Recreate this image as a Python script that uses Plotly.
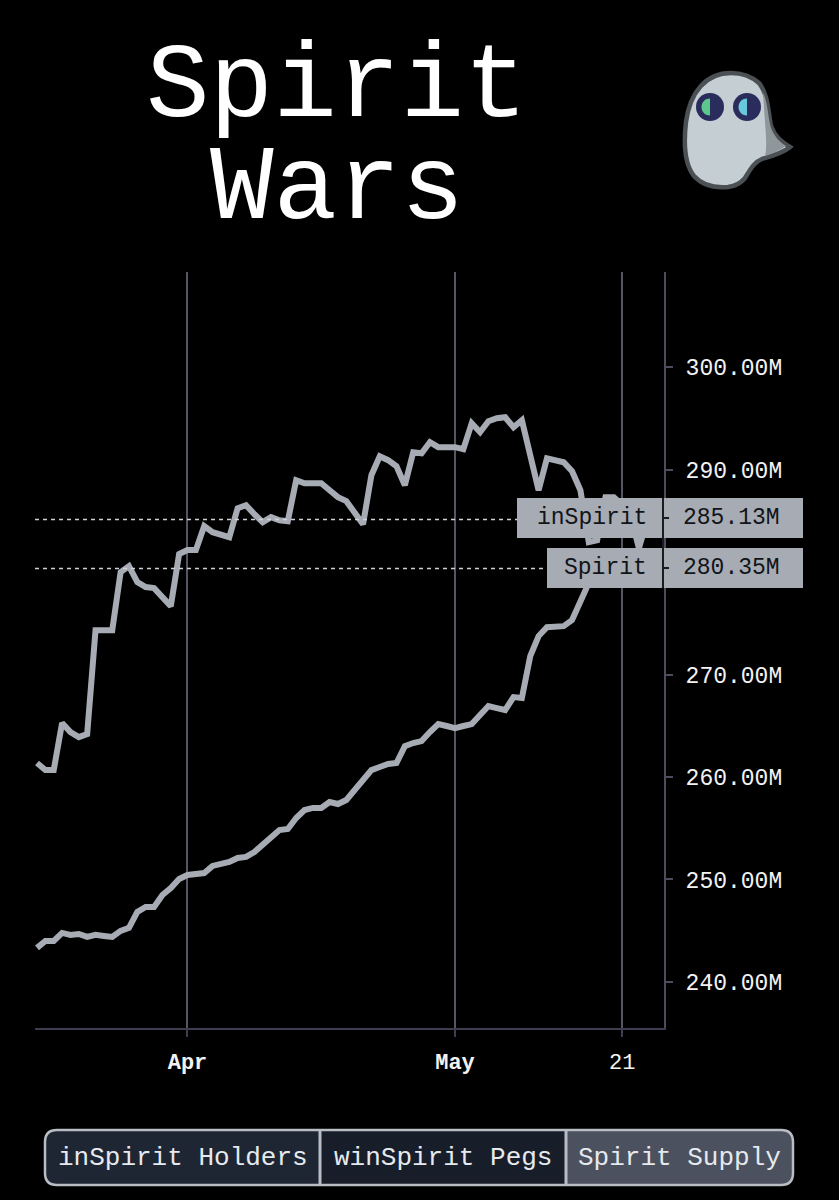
import plotly.graph_objects as go
import pandas as pd

# ---------------- data ----------------
d1 = pd.date_range("2022-03-14", "2022-03-31", freq="D")
d2 = pd.date_range("2022-04-01", "2022-05-01", periods=33)
d3 = pd.date_range("2022-05-02", "2022-05-24", freq="D")
dates = [d.strftime("%Y-%m-%d %H:%M") for d in list(d1) + list(d2) + list(d3)]

inspirit = [261.37, 260.68, 260.68, 265.27, 264.39, 263.90, 264.20, 274.34, 274.34, 274.34,
            280.00, 280.59, 279.02, 278.54, 278.44, 277.46, 276.68, 281.76, 282.15, 282.15,
            284.49, 283.90, 283.61, 283.41, 286.24, 286.54, 285.66, 284.88, 285.37, 285.07,
            284.98, 288.98, 288.68, 288.68, 288.68, 288.00, 287.32, 286.93, 285.85, 284.68,
            289.46, 291.32, 290.93, 290.34, 288.49, 291.71, 291.61, 292.68, 292.20, 292.20,
            292.20, 292.00, 294.54, 293.66, 294.73, 295.02, 295.12, 294.15, 294.83, 291.41,
            288.00, 291.12, 290.93, 290.73, 289.85, 288.00, 282.93, 283.12, 287.32, 287.32,
            286.54, 285.56, 282.34, 285.13]

spirit = [243.32, 244.00, 244.00, 244.78, 244.59, 244.68, 244.39, 244.59, 244.49, 244.39,
          244.98, 245.27, 246.83, 247.32, 247.32, 248.49, 249.17, 250.05, 250.44, 250.54,
          250.63, 251.32, 251.51, 251.71, 252.10, 252.20, 252.68, 253.37, 254.05, 254.83,
          254.93, 256.00, 256.78, 256.98, 256.98, 257.56, 257.37, 257.76, 258.73, 259.71,
          260.68, 260.98, 261.27, 261.37, 263.02, 263.32, 263.51, 264.39, 265.17, 264.98,
          264.78, 264.98, 265.17, 266.05, 266.93, 266.73, 266.54, 267.80, 267.71, 271.80,
          273.76, 274.63, 274.73, 274.73, 275.32, 276.98, 278.93, 279.71, 280.20, 280.68,
          280.98, 280.59, 280.39, 280.35]

x_tick_vals = ["2022-04-01 00:00", "2022-05-01 00:00", "2022-05-21 00:00"]
x_tick_text = ["<b>Apr</b>", "<b>May</b>", "21"]
# 280.00M sits behind the "Spirit" price label in the reference, so it is not shown
y_tick_vals = [240, 250, 260, 270, 290, 300]
y_tick_text = ["240.00M", "250.00M", "260.00M", "270.00M", "290.00M", "300.00M"]

series_names = ["inSpirit", "Spirit"]
buttons = ["inSpirit Holders", "winSpirit Pegs", "Spirit Supply"]
title_lines = ["Spirit", "Wars"]

# ---------------- layout helpers ----------------
W, H = 839, 1200
L, R, T, B = 35, 664, 272, 1028
MONO = "Liberation Mono, DejaVu Sans Mono, monospace"
LINE_C = "#a7acb4"


def X(px):
    return (px - L) / (R - L)


def Y(py):
    return (B - py) / (B - T)


def path(segs):
    out = []
    for cmd, pts in segs:
        s = cmd
        if pts:
            s += " " + " ".join(f"{X(a):.5f},{Y(b):.5f}" for a, b in pts)
        out.append(s)
    return " ".join(out)


shapes = []
annotations = []

fig = go.Figure()
for name, vals in zip(series_names, [inspirit, spirit]):
    fig.add_trace(go.Scatter(x=dates, y=vals, mode="lines", name=name,
                             line=dict(color=LINE_C, width=6), showlegend=False,
                             hoverinfo="skip"))

# price lines + labels
label_boxes = [(517, 498, 538), (547, 548, 588)]
for (name, vals), (bx, by0, by1) in zip(zip(series_names, [inspirit, spirit]), label_boxes):
    last = vals[-1]
    shapes.append(dict(type="line", xref="paper", yref="y", x0=0, x1=X(bx), y0=last, y1=last,
                       line=dict(color="#cfd3d8", width=1.5, dash="4px,4px"), layer="above"))
    shapes.append(dict(type="rect", xref="paper", yref="paper", x0=X(bx), x1=X(803),
                       y0=Y(by1), y1=Y(by0), fillcolor=LINE_C, line=dict(width=0), layer="above"))
    yc = (by0 + by1) / 2
    shapes.append(dict(type="line", xref="paper", yref="paper", x0=X(663), x1=X(669),
                       y0=Y(yc), y1=Y(yc), line=dict(color="#1a1c20", width=2), layer="above"))
    annotations.append(dict(text=name, xref="paper", yref="paper", x=X(649), y=Y(yc),
                            xanchor="right", yanchor="middle", showarrow=False,
                            font=dict(family=MONO, size=23, color="#111418")))
    annotations.append(dict(text=f"{last:.2f}M", xref="paper", yref="paper", x=X(681), y=Y(yc),
                            xanchor="left", yanchor="middle", showarrow=False,
                            font=dict(family=MONO, size=23, color="#111418")))
shapes.append(dict(type="line", xref="paper", yref="paper", x0=X(663), x1=X(663),
                   y0=Y(588), y1=Y(498), line=dict(color="#1a1c20", width=2), layer="above"))

# title
for txt, yc in zip(title_lines, [88, 190]):
    annotations.append(dict(text=txt, xref="paper", yref="paper", x=X(337), y=Y(yc),
                            xanchor="center", yanchor="middle", showarrow=False,
                            font=dict(family=MONO, size=106, color="#ffffff")))

# ghost icon
body = path([("M", [(731, 73)]),
             ("C", [(706, 73), (690, 92), (686, 122)]),
             ("C", [(683, 148), (686, 166), (694, 176)]),
             ("C", [(703, 186), (717, 188), (728, 187)]),
             ("C", [(736, 186), (741, 183), (745, 178)]),
             ("C", [(750, 170), (754, 162), (762, 159)]),
             ("C", [(772, 156), (783, 153), (790, 147)]),
             ("C", [(782, 142), (775, 137), (771, 126)]),
             ("C", [(768, 110), (768, 94), (759, 83)]),
             ("C", [(751, 76), (742, 73), (731, 73)]),
             ("Z", [])])
shapes.append(dict(type="path", xref="paper", yref="paper", path=body,
                   fillcolor="#c4ced3", line=dict(color="#4b5054", width=4.5), layer="above"))
shade = path([("M", [(763, 92)]),
              ("C", [(768, 104), (768, 118), (771, 128)]),
              ("C", [(775, 138), (781, 143), (786, 146)]),
              ("C", [(780, 150), (772, 154), (765, 156)]),
              ("C", [(768, 146), (765, 128), (763, 92)]),
              ("Z", [])])
shapes.append(dict(type="path", xref="paper", yref="paper", path=shade,
                   fillcolor="#8f979b", line=dict(width=0), layer="above"))
for cx, col in [(710, "#5cc78c"), (747, "#68c8dc")]:
    cy, r = 107, 14
    shapes.append(dict(type="circle", xref="paper", yref="paper", x0=X(cx - r), x1=X(cx + r),
                       y0=Y(cy + r), y1=Y(cy - r), fillcolor="#2a2d5c",
                       line=dict(width=0), layer="above"))
    rr = 8.5
    half = path([("M", [(cx, cy - rr)]),
                 ("C", [(cx - 1.333 * rr, cy - rr), (cx - 1.333 * rr, cy + rr), (cx, cy + rr)]),
                 ("Z", [])])
    shapes.append(dict(type="path", xref="paper", yref="paper", path=half,
                       fillcolor=col, line=dict(width=0), layer="above"))

# segmented buttons
bx0, bx1, by0, by1, rad = 45, 793, 1130, 1185, 12
div1, div2 = 320, 566
seg_fill = ["#1f2633", "#181e29", "#4b515e"]
seg1 = path([("M", [(bx0 + rad, by0)]), ("L", [(div1, by0)]), ("L", [(div1, by1)]),
             ("L", [(bx0 + rad, by1)]), ("Q", [(bx0, by1), (bx0, by1 - rad)]),
             ("L", [(bx0, by0 + rad)]), ("Q", [(bx0, by0), (bx0 + rad, by0)]), ("Z", [])])
seg2 = path([("M", [(div1, by0)]), ("L", [(div2, by0)]), ("L", [(div2, by1)]),
             ("L", [(div1, by1)]), ("Z", [])])
seg3 = path([("M", [(div2, by0)]), ("L", [(bx1 - rad, by0)]), ("Q", [(bx1, by0), (bx1, by0 + rad)]),
             ("L", [(bx1, by1 - rad)]), ("Q", [(bx1, by1), (bx1 - rad, by1)]),
             ("L", [(div2, by1)]), ("Z", [])])
for p, c in zip([seg1, seg2, seg3], seg_fill):
    shapes.append(dict(type="path", xref="paper", yref="paper", path=p, fillcolor=c,
                       line=dict(width=0), layer="above"))
outer = path([("M", [(bx0 + rad, by0)]), ("L", [(bx1 - rad, by0)]), ("Q", [(bx1, by0), (bx1, by0 + rad)]),
              ("L", [(bx1, by1 - rad)]), ("Q", [(bx1, by1), (bx1 - rad, by1)]),
              ("L", [(bx0 + rad, by1)]), ("Q", [(bx0, by1), (bx0, by1 - rad)]),
              ("L", [(bx0, by0 + rad)]), ("Q", [(bx0, by0), (bx0 + rad, by0)]), ("Z", [])])
shapes.append(dict(type="path", xref="paper", yref="paper", path=outer,
                   line=dict(color="#b9bdc4", width=2.5), layer="above"))
for dx in [div1, div2]:
    shapes.append(dict(type="line", xref="paper", yref="paper", x0=X(dx), x1=X(dx),
                       y0=Y(by1), y1=Y(by0), line=dict(color="#b9bdc4", width=3), layer="above"))
for txt, cx in zip(buttons, [(bx0 + div1) / 2, (div1 + div2) / 2, (div2 + bx1) / 2]):
    annotations.append(dict(text=txt, xref="paper", yref="paper", x=X(cx), y=Y((by0 + by1) / 2),
                            xanchor="center", yanchor="middle", showarrow=False,
                            font=dict(family=MONO, size=26, color="#e6e9ee")))

fig.update_layout(
    width=W, height=H, autosize=False,
    margin=dict(l=L, r=W - R, t=T, b=H - B, pad=0),
    paper_bgcolor="#000000", plot_bgcolor="#000000",
    shapes=shapes, annotations=annotations,
    xaxis=dict(type="category", range=[-0.24, 75.0], tickmode="array",
               tickvals=x_tick_vals, ticktext=x_tick_text,
               showgrid=True, gridcolor="#555563", gridwidth=1.5,
               showline=True, linecolor="#3f3e50", linewidth=2,
               ticks="outside", ticklen=7, tickcolor="#3f3e50", tickwidth=2,
               ticklabelstandoff=6,
               tickfont=dict(family=MONO, size=22, color="#f2f2f2"),
               zeroline=False, automargin=False, fixedrange=True),
    yaxis=dict(side="right", range=[235.5, 309.3], tickmode="array",
               tickvals=y_tick_vals, ticktext=y_tick_text,
               showgrid=False, showline=True, linecolor="#4d4c5e", linewidth=2,
               ticks="outside", ticklen=7, tickcolor="#4d4c5e", tickwidth=2,
               ticklabelstandoff=8,
               tickfont=dict(family=MONO, size=23, color="#f2f2f2"),
               zeroline=False, automargin=False, fixedrange=True),
)

fig.write_html("out.html", config={"displayModeBar": False},
               post_script="document.body.style.margin='0';")
